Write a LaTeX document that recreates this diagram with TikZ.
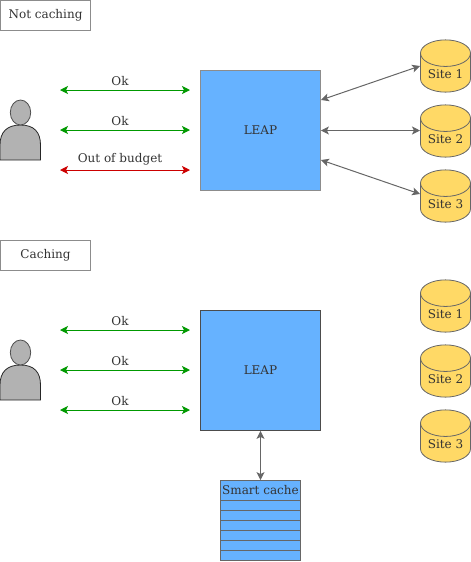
\documentclass[tikz,border=0pt]{standalone}
\usepackage{fontspec}
\setmainfont{DejaVu Serif}
\usepackage{xcolor}
\usetikzlibrary{arrows.meta,shapes.geometric}

\definecolor{leapblue}{HTML}{66B2FF}
\definecolor{siteyellow}{HTML}{FFD966}
\definecolor{txtgray}{HTML}{333333}
\definecolor{okgreen}{HTML}{009900}
\definecolor{badred}{HTML}{CC0000}
\definecolor{linegray}{HTML}{666666}

\tikzset{
    every node/.style={font=\fontsize{9}{11}\selectfont, text=txtgray},
    tagbox/.style={draw=black!45, fill=white, line width=0.6pt, minimum width=67.5pt, minimum height=22.5pt, inner sep=0pt},
    leapbox/.style={draw=#1, fill=leapblue, line width=0.6pt, minimum width=90pt, minimum height=90pt, inner sep=0pt},
    site/.style={cylinder, shape border rotate=90, draw=linegray, fill=siteyellow, line width=0.6pt,
        aspect=0.75, minimum width=37.5pt, minimum height=37pt, inner sep=0pt, anchor=shape center,
        text height=9pt, text depth=0pt},
    link/.style={{Stealth[length=6pt,width=6pt,inset=1.5pt]}-{Stealth[length=6pt,width=6pt,inset=1.5pt]}, line width=0.75pt, draw=#1},
    person/.pic={
        \draw[fill=black!30, line width=0.6pt, draw=black!85] (0,160) -- (0,145)
            .. controls (0,132) and (7,125) .. (20.5,125)
            .. controls (34,125) and (40.5,132) .. (40.5,145) -- (40.5,160) -- cycle;
        \draw[fill=black!30, line width=0.6pt, draw=black!70] (20.5,112.5) ellipse (10.2 and 12.5);
    }
}

\begin{document}
\begin{tikzpicture}[x=0.75pt, y=-0.75pt]
    \useasboundingbox (0,0) rectangle (471,562);

    \node[tagbox] (tagA) at (45.5,15.5) {\raisebox{-1pt}{Not caching}};
    \node[tagbox] (tagB) at (45.5,255.5) {\raisebox{-1pt}{Caching}};

    \pic at (0,0) {person};
    \pic at (0,240) {person};

    \node[leapbox=black!45] (leapA) at (260.5,130.5) {\raisebox{-0.4pt}{LEAP}};
    \node[leapbox=black!70] (leapB) at (260.5,370.5) {\raisebox{-0.4pt}{LEAP}};

    \node[site] (siteA1) at (445.5,66) {Site 1};
    \node[site] (siteA2) at (445.5,131) {Site 2};
    \node[site] (siteA3) at (445.5,196) {Site 3};
    \node[site] (siteB1) at (445.5,306) {Site 1};
    \node[site] (siteB2) at (445.5,371) {Site 2};
    \node[site] (siteB3) at (445.5,436) {Site 3};

    % client side links
    \foreach \y/\col/\txt in {90/okgreen/Ok,130/okgreen/Ok,170/badred/Out of budget,330/okgreen/Ok,370/okgreen/Ok,410/okgreen/Ok} {
        \coordinate (from\y) at (60,\y);
        \coordinate (to\y) at (190,\y);
        \draw[link=\col] (from\y) -- (to\y);
        \node[anchor=south, inner sep=3.2pt] (lbl\y) at (120,\y) {\txt};
    }

    % site links
    \coordinate (leapA1) at (321,100);
    \coordinate (leapA3) at (321,160);
    \coordinate (siteIn1) at (420,66);
    \coordinate (siteIn2) at (420,130.5);
    \coordinate (siteIn3) at (420,194);
    \draw[link=linegray] (leapA1) -- (siteIn1);
    \draw[link=linegray] (leapA.east) -- (siteIn2);
    \draw[link=linegray] (leapA3) -- (siteIn3);

    % cache
    \node[draw=linegray, fill=leapblue, line width=0.6pt, minimum width=60pt, minimum height=60pt, inner sep=0pt] (cache) at (260.5,520.5) {};
    \node (cachetxt) at (260.5,490.5) {Smart cache};
    \foreach \y in {500,510,520,530,540,550}
        \draw[linegray, line width=0.6pt] (220.5,\y.5) -- (300.5,\y.5);
    \draw[link=linegray] (leapB.south) -- (cache.north);
\end{tikzpicture}
\end{document}
